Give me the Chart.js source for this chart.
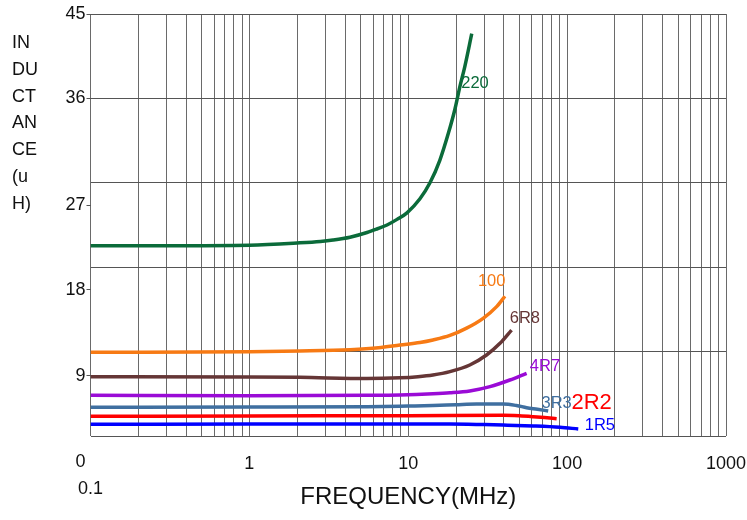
<!DOCTYPE html>
<html lang="en">
<head>
<meta charset="UTF-8">
<title>Inductance vs Frequency</title>
<script src="https://cdn.jsdelivr.net/npm/chart.js@4"></script>
<style>
  body { margin: 0; background: #fff; }
  #wrap { position: relative; width: 747px; height: 520px; }
  #yTitle {
    position: absolute; left: 12px; top: 29px;
    font: 18px "Liberation Sans", Arial, sans-serif;
    line-height: 26.8px; color: #111;
  }
</style>
</head>
<body>
<div id="wrap">
  <canvas id="myChart" width="747" height="520"></canvas>
  <div id="yTitle"></div>
</div>
<script>
// axis ticks
const xTicks = [0.1, 1, 10, 100, 1000];
const yTicks = [0, 9, 18, 27, 36, 45];
const yTitleLines = ['IN', 'DU', 'CT', 'AN', 'CE', '(u', 'H)'];
const xTitle = 'FREQUENCY(MHz)';

// curves: frequency (MHz) / inductance (uH)
const freq220 = [0.1, 0.3, 1, 2.08, 2.8, 3.36, 4.3, 5.5, 6.4, 7.35, 8.5, 9.82, 11.85, 13.7, 15.8, 17.9, 19.7, 21.1, 22.7, 25.1];
const ind220  = [20.3, 20.3, 20.35, 20.6, 20.75, 20.9, 21.2, 21.7, 22.1, 22.5, 23.1, 23.8, 25.3, 27.0, 29.4, 32.3, 34.9, 37.2, 39.4, 42.9];

const freq100 = [0.1, 1, 2.08, 4.3, 6.5, 8.87, 11.85, 14.3, 18.3, 23.3, 29.6, 36.0, 40.6];
const ind100  = [8.92, 8.98, 9.06, 9.2, 9.4, 9.7, 9.97, 10.24, 10.72, 11.5, 12.55, 13.8, 14.9];

const freq6R8 = [0.1, 1, 2.08, 5.5, 8.87, 11.5, 14.3, 18.3, 24.4, 31.1, 37.8, 44.7];
const ind6R8  = [6.32, 6.3, 6.26, 6.12, 6.2, 6.32, 6.5, 6.86, 7.57, 8.64, 9.88, 11.3];

const freq4R7 = [0.1, 1, 5.5, 8.87, 14.3, 18.3, 24.4, 32.7, 43.6, 55.6];
const ind4R7  = [4.34, 4.3, 4.34, 4.38, 4.5, 4.6, 4.8, 5.26, 5.97, 6.69];

const freq3R3 = [0.1, 1, 5.5, 10, 14.3, 20, 26.9, 39.6, 48, 55.6, 65, 76.0];
const ind3R3  = [3.06, 3.08, 3.13, 3.2, 3.25, 3.34, 3.41, 3.41, 3.25, 3.02, 2.85, 2.67];

const freq2R2 = [0.1, 1, 10, 39.6, 50, 61.2, 72, 85.9];
const ind2R2  = [2.1, 2.14, 2.16, 2.2, 2.15, 2.06, 1.97, 1.85];

const freq1R5 = [0.1, 1, 10, 18.3, 30, 39.6, 61.2, 90.1, 117.5];
const ind1R5  = [1.25, 1.27, 1.28, 1.28, 1.22, 1.17, 1.07, 0.93, 0.75];

document.getElementById('yTitle').innerHTML = yTitleLines.join('<br>');

const FONT = '"Liberation Sans", Arial, sans-serif';

function series(label, xs, ys, color, tagAt, tagSize) {
    return {
        label: label,
        data: xs.map((f, i) => ({ x: f, y: ys[i] })),
        borderColor: color,
        backgroundColor: color,
        borderWidth: 3.5,
        pointRadius: 0,
        cubicInterpolationMode: 'monotone',
        tagAt: tagAt,
        tagSize: tagSize
    };
}

// curve names written next to the line ends
const curveLabels = {
    id: 'curveLabels',
    afterDatasetsDraw(chart) {
        const { ctx, scales } = chart;
        ctx.save();
        ctx.textAlign = 'center';
        ctx.textBaseline = 'middle';
        chart.data.datasets.forEach(ds => {
            ctx.font = ds.tagSize + 'px ' + FONT;
            ctx.fillStyle = ds.borderColor;
            ctx.fillText(ds.label, scales.x.getPixelForValue(ds.tagAt[0]), scales.y.getPixelForValue(ds.tagAt[1]));
        });
        ctx.restore();
    }
};

// the value labels 27..0 sit a bit under their grid lines in the original
const yLabelShift = { 45: 0, 36: 0, 27: -2.4, 18: -2.4, 9: -2.6, 0: -2.8 };

const isDecade = v => Math.abs(Math.log10(v) - Math.round(Math.log10(v))) < 1e-9;

new Chart(document.getElementById('myChart'), {
    type: 'line',
    data: {
        datasets: [
            series('220', freq220, ind220, '#0b6b3a', [26.3, 37.6], 16.5),
            series('100', freq100, ind100, '#f77a14', [33.5, 16.45], 16.5),
            series('6R8', freq6R8, ind6R8, '#653636', [54.2, 12.55], 16.5),
            series('4R7', freq4R7, ind4R7, '#9a0bd6', [72.5, 7.39], 16.5),
            series('3R3', freq3R3, ind3R3, '#3f6fa0', [85.9, 3.49], 16.5),
            series('2R2', freq2R2, ind2R2, '#ff0000', [142.6, 3.49], 22),
            series('1R5', freq1R5, ind1R5, '#0000ff', [160.8, 1.10], 16.5)
        ]
    },
    options: {
        responsive: false,
        animation: false,
        layout: { padding: { left: 0, top: 14, right: 21, bottom: 0 } },
        plugins: {
            legend: { display: false },
            tooltip: { enabled: false }
        },
        scales: {
            x: {
                type: 'logarithmic',
                min: 0.1,
                max: 1000,
                afterBuildTicks: scale => {
                    const t = [];
                    for (let e = -1; e < 3; e++) {
                        for (let m = 1; m < 10; m++) t.push({ value: +(m * Math.pow(10, e)).toPrecision(3) });
                    }
                    t.push({ value: 1000 });
                    scale.ticks = t;
                },
                afterFit: scale => {
                    scale.height = 84;
                    scale.paddingLeft = 0;
                    scale.paddingRight = 0;
                },
                grid: { color: '#6a6a6a', lineWidth: 1, drawTicks: false },
                border: { display: false },
                ticks: {
                    autoSkip: false,
                    maxRotation: 0,
                    padding: 15.4,
                    color: '#111',
                    font: { family: FONT, size: 18, lineHeight: 1.4 },
                    callback: value => {
                        if (!isDecade(value)) return '';
                        const s = xTicks.find(v => Math.abs(v - value) < 1e-9).toString();
                        return value < 1 ? ['', s] : s;
                    }
                },
                title: {
                    display: true,
                    text: xTitle,
                    color: '#111',
                    font: { family: FONT, size: 24 },
                    padding: { top: 0, bottom: 8.6 }
                }
            },
            y: {
                min: 0,
                max: 45,
                weight: 0,
                afterBuildTicks: scale => { scale.ticks = yTicks.map(v => ({ value: v })); },
                afterFit: scale => { scale.width = 0; },
                grid: { color: '#555', lineWidth: 1, drawTicks: false },
                border: { display: false },
                ticks: { display: false }
            },
            yl: {
                position: 'left',
                min: 0,
                max: 45,
                weight: 1,
                afterBuildTicks: scale => { scale.ticks = yTicks.map(v => ({ value: v + yLabelShift[v] })); },
                afterFit: scale => {
                    scale.width = 90.5;
                    scale.paddingTop = 0;
                    scale.paddingBottom = 0;
                },
                grid: {
                    drawOnChartArea: false,
                    tickLength: 4,
                    color: ctx => (ctx.index === 0 ? 'rgba(0,0,0,0)' : '#555')
                },
                border: { display: false },
                ticks: {
                    autoSkip: false,
                    padding: 1,
                    color: '#111',
                    font: { family: FONT, size: 18 },
                    callback: (value, i) => String(yTicks[i])
                }
            }
        }
    },
    plugins: [curveLabels]
});
</script>
</body>
</html>
